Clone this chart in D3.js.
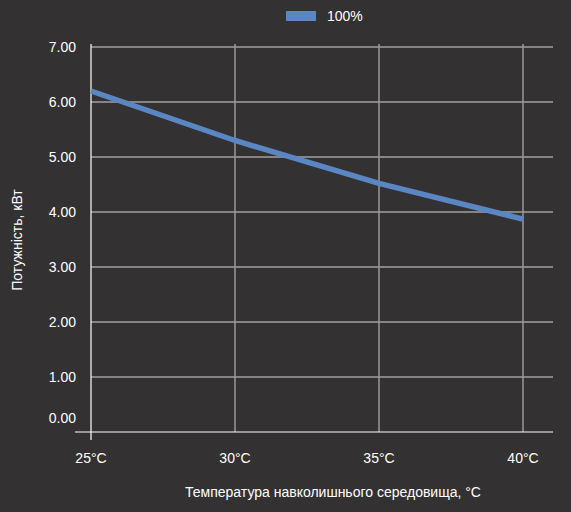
<!DOCTYPE html><html><head><meta charset="utf-8"><script src="https://cdn.jsdelivr.net/npm/d3@7"></script>
<style>body{margin:0;background:#333132}text{font-family:"Liberation Sans",Arial,sans-serif;fill:#fff}</style></head><body>
<svg id="c" width="571" height="512"></svg>
<script>
const temps=[25,30,35,40];
const tempLabels=["25°C","30°C","35°C","40°C"];
const power=[6.2,5.3,4.52,3.87];
const yTicks=[0,1,2,3,4,5,6,7];
const fs=14;
const svg=d3.select("#c");
svg.append("rect").attr("width",571).attr("height",512).attr("fill","#333132");
const x=d3.scaleLinear().domain([25,40]).range([91,523]);
const y=d3.scaleLinear().domain([0,7]).range([432,47]);
yTicks.filter(v=>v>0).forEach(v=>{
 svg.append("line").attr("x1",91).attr("x2",553).attr("y1",y(v)).attr("y2",y(v)).attr("stroke","#d8d8d8").attr("stroke-width",1);
 svg.append("text").attr("x",76).attr("y",y(v)+5).attr("text-anchor","end").attr("font-size",fs).text(v.toFixed(2));
});
svg.append("text").attr("x",76).attr("y",423).attr("text-anchor","end").attr("font-size",fs).text("0.00");
temps.forEach((t,i)=>{
 svg.append("line").attr("x1",x(t)).attr("x2",x(t)).attr("y1",44).attr("y2",i==0?440:432).attr("stroke",i==0?"#fff":"#999").attr("stroke-width",i==0?1.2:1.5);
 svg.append("text").attr("x",x(t)).attr("y",463).attr("text-anchor","middle").attr("font-size",fs).text(tempLabels[i]);
});
svg.append("line").attr("x1",75).attr("x2",553).attr("y1",432).attr("y2",432).attr("stroke","#fff").attr("stroke-width",1.2);
svg.append("path").datum(temps.map((t,i)=>[t,power[i]])).attr("fill","none").attr("stroke","#5b86c4").attr("stroke-width",5.5)
 .attr("d",d3.line().x(d=>x(d[0])).y(d=>y(d[1])));
svg.append("rect").attr("x",286).attr("y",11).attr("width",30).attr("height",10).attr("fill","#5b86c4");
svg.append("text").attr("x",327).attr("y",21).attr("font-size",fs).text("100%");
svg.append("text").attr("x",333).attr("y",497).attr("text-anchor","middle").attr("font-size",fs).text("Температура навколишнього середовища, °C");
svg.append("text").attr("transform","translate(22,240) rotate(-90)").attr("text-anchor","middle").attr("font-size",fs).text("Потужність, кВт");
</script></body></html>
